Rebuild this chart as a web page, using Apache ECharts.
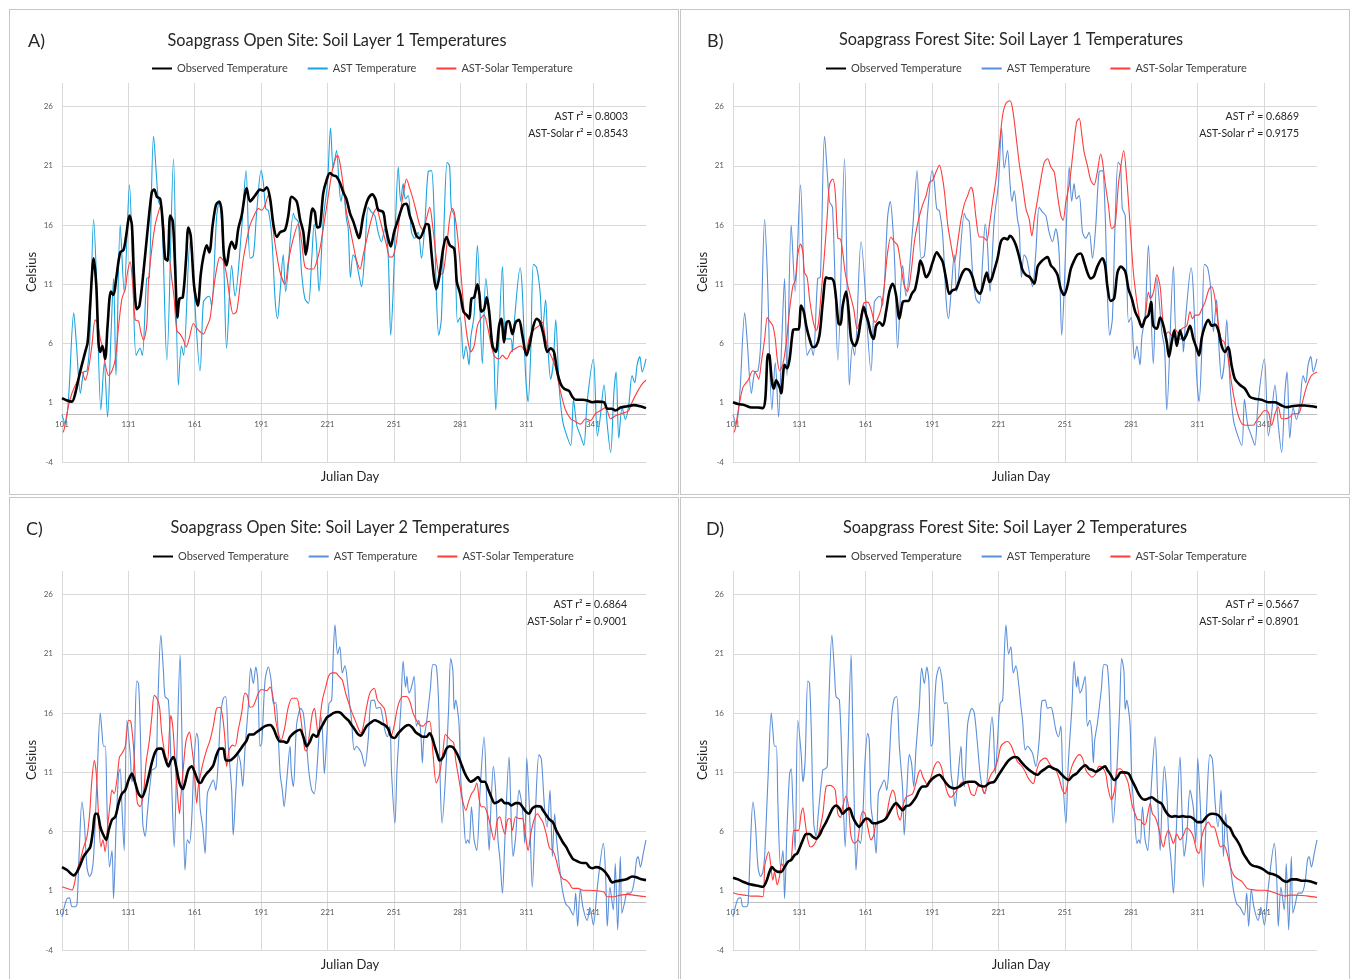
<!DOCTYPE html>
<html>
<head>
<meta charset="utf-8">
<script src="https://cdn.jsdelivr.net/npm/echarts@6/dist/echarts.min.js"></script>
<style>
  body { margin: 0; background: #fff; width: 1354px; height: 979px; overflow: hidden; position: relative; }
  .panel { position: absolute; width: 670px; height: 486px; box-sizing: border-box; border: 1px solid #c6c6c6; background: #fff; }
</style>
</head>
<body>
<div class="panel" id="pA" style="left:9px;top:9px"></div>
<div class="panel" id="pB" style="left:680px;top:9px"></div>
<div class="panel" id="pC" style="left:9px;top:497px"></div>
<div class="panel" id="pD" style="left:680px;top:497px"></div>
<script>
// Julian day / temperature (°C) pairs

// AST, layer 1 (panels A and B share it)
const astL1 = [[101,0],[102.5,-0.8],[104,1.5],[106.3,8.6],[107.5,6],[109.3,1.8],[110.8,3.6],[112.3,3.7],[113.5,6],[115.3,16.5],[116.5,12],[118.6,0.4],[120.1,4.4],[121.6,-0.2],[123,6],[124.3,11.5],[125.4,3.3],[127.3,16],[129.1,10.4],[131.5,19.4],[133,12],[134.5,5],[136.3,5.6],[137.3,5],[139.3,11.5],[140.5,11.6],[142.4,23.5],[144.6,18],[146,17.5],[148.4,4.6],[151.4,21.6],[153.6,2.5],[155,5.8],[156,5],[158.9,14.6],[163.4,3.7],[164.9,9.5],[166.4,9.9],[167.6,10],[168.6,9.2],[170.9,16.7],[172.1,18],[173.2,16],[174.2,12.3],[175.4,5.6],[177.7,12.6],[179.2,10],[182.2,15.7],[184.2,20.6],[186,13.2],[187.5,13.4],[189,17.1],[191,20.6],[192,19.6],[193.1,17.4],[194.3,17.2],[195.8,15.1],[197.3,9.8],[198.4,8.1],[199.6,10.4],[201,13.5],[202.1,10.4],[205.6,17],[206.3,16.6],[207.8,16.3],[209.3,12],[210.8,9.8],[212.4,9.4],[213.9,13.2],[215,16.1],[216,14.4],[217.2,10.4],[219.1,16.5],[221,19.5],[222.4,24.2],[223.6,20.8],[225.1,22.3],[226.2,19.6],[227.1,18],[228.1,18.9],[229.6,16.5],[230.4,15.7],[231.4,11.6],[232.6,13.5],[233.7,13.2],[234.9,12.1],[236.4,10.8],[237.9,13.7],[239.4,17.5],[240.9,17.1],[242.4,16.8],[243.9,15.4],[245.4,14.6],[246.9,15.7],[248.4,13.7],[249.6,6.7],[250.7,10.4],[251.8,16.5],[253,20.9],[254.1,18],[255.2,19.5],[256.2,18.2],[257.5,18.5],[259,15.4],[260.5,14.9],[262,15.4],[263.5,13.2],[265,16],[266.5,20.5],[268,20.6],[269.2,17.1],[270.2,10.4],[271.3,6.7],[272.5,8.1],[273.7,16],[275.1,21.3],[276.2,21],[277,17.4],[278.3,16.8],[279.8,7.8],[281,8.2],[282.5,4.7],[283.6,5.8],[285,4.2],[285.8,6.5],[287.3,8.4],[288.8,14.3],[291,4.3],[292.6,11.5],[294.9,6.9],[296.1,5.6],[297.1,0.4],[300.1,12.5],[301.6,6.4],[303.9,6.4],[304.6,5.3],[305.6,8.1],[308.1,12.4],[309.1,10.4],[310.6,3.3],[311.7,1.1],[312.9,5.3],[314.1,12.7],[315.6,12.4],[317.1,10.4],[318.2,7],[319.6,9.7],[320.7,5.6],[321.9,3],[323.1,4.4],[324.2,8],[325.7,2.5],[327.2,-0.4],[328.7,-1.5],[331,-2.6],[332.2,1.3],[333.7,-0.9],[335.4,-1.8],[336.9,-2.6],[338.4,1.1],[341.2,4.7],[343,-1.8],[344.2,-0.4],[346,2.5],[347.5,-0.9],[349,-3.2],[350.5,1.9],[351.5,3.6],[352.7,-2],[354.2,0.6],[355.7,-0.4],[357.2,0.8],[358.7,3.3],[359.9,2.7],[361,4.2],[362.2,4.9],[363.3,3.6],[365,4.7]];

// AST, layer 2 (panels C and D share it)
const astL2 = [[101,-1.2],[102,-0.4],[103.3,0.35],[104.4,0.4],[105.5,-0.35],[107,-0.35],[107.8,-0.1],[108.8,4.4],[110,8.5],[111.1,6.7],[112.3,3],[113.5,2.2],[114.5,2.6],[115.3,3.9],[116.8,10.35],[118.3,16],[119,14.6],[119.8,13.2],[120.6,13.2],[121.3,8.4],[122.5,3],[123.6,4.4],[124.3,0.35],[125.5,6.7],[126.6,10.9],[127.3,11.3],[128.1,8.1],[129.1,4.4],[130.3,15.4],[131.8,12.6],[132.6,10.2],[133.6,12],[134.8,18.7],[135.6,18.5],[136.3,15.1],[137.5,6.7],[138.6,5.6],[139.6,7.6],[141.6,11.2],[142.7,11.3],[143.6,11.5],[144.2,16],[145.7,22.6],[146.9,19.4],[147.6,17.4],[149.1,17.1],[150.6,9.8],[151.7,4.7],[152.9,12.3],[154.4,20.9],[155.1,15.1],[155.9,7.5],[156.6,2.75],[157.7,5.3],[158.6,5],[159.6,6.9],[160.7,12],[161.9,14.3],[162.6,13.7],[163.4,8.1],[164.6,6.4],[165.7,4.15],[166.7,9.2],[167.9,9.8],[169.4,10.35],[170.5,9.5],[171.5,11.5],[172.7,15.7],[173.9,17.25],[175,17.4],[176.2,13.2],[177.7,9.5],[178.4,5.7],[179.6,9.5],[180.7,12.5],[181.7,11.8],[182.7,9.8],[183.7,12.9],[185.2,16.5],[186.3,19.8],[187.5,18.5],[188.6,19.9],[189.5,18.8],[190.5,13.2],[191.3,13.5],[192.8,18.8],[194.3,19.9],[195.5,18.8],[196.6,16.8],[197.6,16.9],[198.5,15.1],[199.6,10.9],[200.6,9.5],[201.4,8.1],[202.6,10.35],[204.1,13.2],[204.6,11.2],[205.6,9.8],[207.1,15.1],[209,16.4],[210.1,16],[211.6,13.2],[212.7,10.9],[213.9,9.5],[215,9.2],[218.1,15.7],[218.7,14.6],[219.6,10.9],[220.6,13.7],[221.7,16.8],[222.9,17.1],[223.6,20.8],[224.4,23.45],[225.6,21],[226.6,21.6],[227.7,19.4],[228.9,20],[230.1,18.5],[231.2,16.5],[231.9,15.4],[233.1,12.9],[234.2,13.2],[235.2,13],[236.4,12.6],[237.9,11.5],[239.4,13.7],[240.6,17],[242.1,17.1],[243.2,16.4],[244.7,16.5],[245.7,15.9],[246.9,14.6],[248.1,14],[249.2,14.9],[250,10.9],[251.5,6.7],[252.5,11.5],[254.2,16.5],[255.2,20.4],[256.3,18.2],[256.9,19.1],[257.8,17.7],[258.7,18],[260.2,19.1],[261.2,14.9],[262.3,15.4],[263.2,14.3],[263.9,11.8],[264.5,13.7],[265.7,15.1],[267.5,18],[268.7,20.1],[270.2,20],[271.3,16.5],[272,10],[272.8,6.7],[274.3,10.4],[275.8,16.5],[276.7,20.6],[277.7,19.6],[278.3,16.3],[279,17.1],[279.8,16.3],[280.5,15],[281.3,10.35],[282.5,7.5],[283.6,5],[284.4,5.3],[285.1,5],[286.1,8.1],[287.3,5.3],[288.5,4.4],[290,9.5],[291.8,14],[293,8.7],[294.1,4.4],[294.9,8.1],[296,11.5],[297,9.5],[298.1,5.3],[299,3.6],[300.1,0.8],[301.2,5.3],[303.1,12.3],[303.9,8.1],[304.9,3.9],[306.1,5.6],[307.6,9.5],[309.1,8],[310.2,5],[311.1,12.2],[312.3,8],[313.6,1.3],[315.1,8],[316.6,12.5],[317.7,12.1],[319.1,8.1],[320.3,6.4],[321.6,9.5],[322.7,3.9],[323.7,7.5],[324.6,5.3],[325.7,3.3],[327.2,1.1],[328.7,-0.1],[330.2,-0.4],[332.1,-1.05],[333.2,0.8],[334.1,-2],[335.3,1.1],[336.5,-0.4],[338.4,-1.5],[339.6,-0.4],[341.2,-1.9],[343,1.3],[345.7,5],[346.8,2],[347.5,-2],[348.7,1.3],[350.2,-0.6],[351.1,3.3],[352.2,-2.3],[353.4,3.9],[354.1,-0.9],[355.2,-0.1],[356.5,0.8],[358,0.8],[359.5,1.6],[360.7,3.6],[361.4,3.9],[362.5,3],[363.7,4.1],[365,5.3]];

// Panel A: open site, layer 1
const obsA = [[101,1.4],[103.3,1.2],[105.5,1.1],[107,1.8],[109.3,3.7],[111.5,5.3],[112.6,6.1],[113.8,9.5],[115.3,13.2],[116.5,10.9],[117.5,6.1],[118.3,5.3],[119.3,5.8],[120.5,4.7],[121.6,7.5],[123.1,10.4],[124.3,10.1],[125.5,11.5],[127.3,13.7],[128.8,13.9],[130,15.1],[131.5,16.8],[132.6,16],[133.6,11.5],[134.8,8.9],[136,9.2],[137.8,12],[139.6,15.4],[141.6,18.8],[142.7,19],[143.9,18.4],[145.4,18.2],[146.6,16],[147.6,13.2],[148.7,13],[149.9,16.8],[151.1,16.3],[152.1,12.6],[153.2,8.2],[154.1,9.8],[155.6,9.9],[157.1,13.2],[158.1,15.8],[159.2,15.1],[160.7,10.9],[162.4,9.2],[163.7,11.8],[164.9,13.3],[166.4,14.3],[167.6,13.7],[169.1,16],[170.6,17.7],[172.1,18],[173.2,17.1],[174.2,13.5],[175.4,12.6],[176.6,14],[177.7,14.6],[179.2,14],[180.7,15.7],[182.2,16.8],[184.5,19.1],[186,18],[188.3,18.5],[190.5,19],[192,18.9],[193.6,19.2],[195.1,18.2],[196.6,16],[198.1,15],[199.6,15.4],[201.8,15.6],[203.3,16.8],[204.8,18.4],[207.1,18],[208.6,16.5],[210.1,15.4],[211.2,13.5],[212.7,15.4],[214.3,17.4],[215.3,17.1],[216.4,15.8],[217.6,15.9],[219.1,18.7],[220.6,19.8],[222.1,20.4],[223.6,20.2],[225.1,20.1],[226.6,19.6],[228.1,18.8],[229.6,18.2],[231.2,17],[232.7,16.3],[234.2,15.4],[235.2,14.9],[237.2,16.8],[239.1,18.1],[241.2,18.6],[242.7,18.2],[243.9,17.3],[246.2,17.1],[247.2,16],[248.4,14.9],[249.6,14.2],[251.1,15.4],[253,16.5],[255.2,17.7],[256.7,17.8],[258.2,16.8],[259.7,16],[261.2,15.1],[262.7,14.9],[264.2,15.4],[265.7,16.1],[266.8,16],[268,13.7],[269.2,11.5],[270.2,10.6],[271.7,11.8],[273.3,14],[274.8,15],[276.3,14.3],[278.3,14],[279.5,11.2],[281,10.2],[282.5,8.7],[284,8.4],[285.1,8.1],[286.1,9.8],[287.3,9.9],[288.8,11],[289.6,10.3],[290.6,8.7],[291.8,8.9],[293,9.9],[294.1,8.7],[295.6,5.8],[297.1,5.3],[298.6,7.5],[299.6,8.1],[300.8,6.1],[302,7.8],[303,7.9],[304.6,6.8],[306.1,7.8],[307.6,8],[309.1,6.7],[311,5],[312.6,6.1],[314.1,7.5],[315.6,8.1],[317.1,7.8],[318.6,6.8],[320.4,5.3],[321.9,5.6],[323.4,5.3],[324.9,3.6],[326.4,2.6],[327.9,2.2],[330.2,2],[331.7,1.5],[333.2,1.25],[336.2,1.25],[338.4,1.2],[340.7,1.05],[343,1.1],[346,1.05],[347.5,0.5],[349.5,0.5],[351.2,0.35],[353.5,0.6],[356.5,0.7],[359.5,0.8],[362.5,0.7],[365,0.55]];
const solA = [[101.5,-1.5],[102,-1.2],[104,0.8],[105.5,1.8],[107.8,2.8],[110,3.6],[111.5,2.9],[113,3.9],[114.5,5.8],[116,8],[117.1,7.7],[118.3,6.4],[119.5,5.6],[120.5,4.3],[122.1,3.3],[123.6,3.7],[125.1,4.7],[126.6,7.5],[128.1,9.8],[129.6,10.6],[130.6,12],[131.8,12.9],[133,10.9],[134.1,8],[135.6,7.9],[136.6,7],[137.8,6.3],[139.3,7.5],[140.1,11.2],[141.6,14],[143.1,16],[144.6,17.1],[145.7,17.7],[146.9,16],[148.1,13],[149.3,13.2],[150.6,11.5],[151.7,9.8],[152.9,7.1],[154.4,6.8],[155.9,6.3],[157.1,5.7],[158.6,6.5],[160.4,7.7],[161.9,7.3],[163.4,7],[164.9,6.8],[166.4,7.4],[167.9,8.1],[169.4,10.4],[170.9,12.3],[172.4,13.3],[173.9,13],[175.4,11.8],[176.9,9.8],[178.4,8.5],[179.9,8.7],[181.5,10.9],[183,13.2],[185.2,15.4],[186,16],[187.8,16.8],[189.8,17.4],[191.3,17.25],[192.8,17.7],[194.3,18.5],[195.5,17.9],[196.6,15.4],[198.1,13.5],[199.6,12],[201.8,11],[203.3,12.9],[205.6,14.9],[207.8,16.1],[209.3,14.6],[210.8,12.5],[212.4,12.3],[214.6,12.3],[216.1,12.9],[217.6,14],[219.1,15.7],[221.4,18.5],[223.6,21],[225.6,21.9],[226.6,21.3],[228.1,19.4],[229.6,17.1],[231.2,15.7],[232.7,14.3],[234.2,13],[235.7,12.3],[237.2,13.5],[239.1,15.1],[241.2,16.7],[243.2,17.4],[244.7,16.5],[246.2,15.4],[247.7,14.3],[249.2,13.3],[250.7,13.4],[252.2,14.6],[253.7,16.8],[255.7,19.1],[256.7,19.9],[258.2,19.1],[259.7,18.2],[261.2,17.1],[262.7,16],[264.2,15.6],[265.7,16.5],[267.2,17.5],[268.7,15.7],[270.2,13.2],[271.7,11.8],[273.3,12],[274.8,14],[276.3,16.6],[277.5,17.4],[278.3,17.1],[279.8,15.1],[281.3,12],[282.8,8.7],[284.3,6.4],[285.8,5.3],[287.3,5.8],[288.8,7.5],[290.3,8.1],[291.8,8.4],[293.3,7.5],[295.1,5.8],[296.6,4.9],[298.6,4.7],[300.1,5],[302,4.7],[303.9,5.3],[306.1,5.6],[308.4,5.8],[310.6,5.3],[312.1,6.4],[313.6,7],[315.1,7.3],[316.6,7.5],[318.1,7.8],[319.6,6.4],[321.2,5.3],[322.7,4.7],[324.2,3.9],[325.7,2.5],[327.2,1.3],[328.7,0.35],[331,-0.35],[333.2,-0.6],[335.4,-0.8],[337.7,-0.35],[339.9,-0.5],[342.2,0.1],[344.5,0.35],[346.7,0.6],[349,-0.35],[351.2,-0.1],[353.5,0.05],[355.7,0.2],[357.2,0.35],[358.7,1.05],[361,1.9],[363.3,2.6],[365,2.9]];

// Panel B: forest site, layer 1
const obsB = [[101,1.05],[103.3,0.9],[106.3,0.8],[109.3,0.6],[112.3,0.6],[114.5,0.55],[115.6,1.3],[116.8,5.1],[117.5,5],[118.6,2.75],[119.5,2.2],[120.5,2.9],[122.1,2.3],[122.8,1.8],[124.3,4.2],[125.5,3.9],[126.6,4.7],[128.1,7.1],[129.1,7.2],[130.6,7.2],[131.8,9.2],[133,8.7],[134.1,7.5],[135.6,6.4],[137.1,5.7],[138.6,5.8],[140.1,6.7],[141.6,9.5],[143.1,11.6],[144.2,11.5],[145.4,11.5],[146.6,11.2],[147.6,9.8],[148.7,7.7],[149.6,7.6],[150.6,9.2],[152.1,10.4],[153.3,8.7],[154.4,6.4],[155.9,5.8],[157.4,6.4],[158.9,8.1],[160.1,9.1],[161.2,8.4],[162.2,7.8],[163.4,6.8],[164.6,6.4],[165.7,7.5],[167.2,7.8],[168.7,7.5],[170.2,8.7],[171.7,10.4],[173.2,11.05],[174.7,10.1],[176.2,8.1],[177.7,9.5],[178.8,9.6],[180.3,9.6],[181.8,10.2],[183.3,10.6],[184.8,12],[185.7,13],[186.7,12.6],[188.3,11.6],[189.8,12],[191.3,12.9],[193.1,13.7],[194.3,13.4],[195.8,12.9],[197.3,11.5],[198.8,10.2],[200.3,10.5],[201.8,10.6],[203.3,11.3],[204.8,12],[206.3,12.3],[207.8,12.2],[209.3,11.6],[210.8,10.6],[212.7,10.2],[214.2,11.05],[215.7,12],[216.9,11.2],[218,11.5],[219.1,12.2],[220.6,13.2],[222.1,14.6],[223.6,14.9],[225.1,14.8],[226.2,15.1],[227.4,14.9],[228.9,14.3],[230.4,13.3],[231.9,12.2],[233.4,11.8],[235.2,11.6],[237.2,11.05],[238.7,12.5],[240.2,12.9],[242.1,13.2],[243.2,13.3],[244.7,12.6],[246.2,12.3],[247.7,11.8],[249.2,10.6],[250.7,10.1],[252.2,10.9],[253.7,12.3],[255.2,13],[256.7,13.5],[258.2,13.6],[259.7,12.9],[261.2,12],[262.7,11.5],[264.2,11.7],[265.7,12.5],[268,13.2],[269.2,12.6],[270.2,10.9],[271.7,9.6],[273.3,9.8],[274.8,12],[276.3,12.5],[278.3,12.1],[279.8,10.6],[281.3,9.8],[282.8,8.7],[284.3,8.1],[285.8,7.4],[287.3,8.1],[288.8,8.4],[290,9.5],[291,7.5],[292.6,7.25],[294.1,8.2],[295.6,7.5],[297.1,6.1],[298.1,4.9],[299.3,6.1],[300.5,7.1],[301.6,5.8],[303.1,7.1],[304.6,6.3],[306.1,6.8],[307.6,7.5],[309.1,6.4],[310.6,5.6],[311.7,5],[312.9,6.5],[314.4,7.5],[315.9,8],[317.4,7.5],[318.9,7.6],[320.4,7.1],[321.9,5.8],[323.4,5.3],[324.9,5.7],[326.4,4.15],[327.9,3],[330.2,2.5],[332.4,2.2],[334.7,1.5],[336.9,1.34],[339.9,1.25],[343,1.05],[346,1.05],[349,0.77],[351.2,0.63],[353.5,0.7],[356.5,0.77],[359.5,0.77],[362.5,0.7],[365,0.63]];
const solB = [[101.5,-1.5],[102,-1.2],[103.6,0.6],[105.5,2.3],[107.8,2.9],[110,3.7],[111.5,3.45],[112.6,3],[113.8,4.4],[115.3,6.4],[116.5,8.2],[117.5,7.9],[119,7.5],[120.1,6.4],[121,4.7],[122.1,3.7],[123.6,4.3],[125.1,6.1],[126.6,8.9],[128.1,10.9],[129.1,11.3],[130.3,13.5],[131.5,14.4],[132.6,13.7],[133.3,12],[134.5,11.6],[135.6,9.8],[137.1,8],[138.6,7.1],[139.6,7.7],[140.8,10.1],[142.4,13.7],[143.6,16.8],[144.6,19.4],[146.1,19.9],[147.2,18.8],[148.4,14.9],[149.6,14.8],[150.6,13.7],[151.7,12],[152.9,10.9],[154.4,9.8],[155.6,8.9],[157.1,7.25],[158.6,8.1],[160.1,9.4],[161.9,9.5],[163.4,8.9],[165.2,7.8],[166.4,8.1],[167.9,8.9],[169.4,10.9],[170.9,13.7],[172.4,15],[173.9,14.6],[175.4,14.3],[176.9,12.6],[178.4,10.9],[179.9,10.4],[181.5,12],[183,14.6],[184.8,16.4],[186.7,17.7],[188.3,18.5],[189.8,19.6],[191.3,19.8],[192.8,20.5],[194.3,21.05],[195.5,20.2],[196.6,18.8],[198.1,16],[199.6,14.3],[201.1,12.9],[202.6,14.6],[204.1,16.5],[205.6,17.8],[207.1,18.5],[208.6,19.2],[209.6,18.7],[210.8,16.7],[212.4,15],[213.9,15],[215.7,14.7],[216.9,16],[218.4,18],[219.9,19.9],[221.4,22.7],[222.9,25.3],[224.4,26.3],[226.2,26.5],[227.4,25.8],[228.9,23.6],[230.4,21.2],[231.9,19.4],[233.4,17.4],[234.9,16.5],[236.1,15.1],[237.2,16.5],[238.7,18.2],[240.2,19.9],[241.7,21.3],[243.2,21.6],[244.7,20.9],[246.2,20.5],[247.7,18.5],[249.2,16.8],[250.2,16.4],[251.5,18],[253,19.4],[254.5,21.8],[256.3,24.7],[257.5,25],[258.7,23.6],[259.7,22.2],[261.2,21.05],[262.7,19.8],[264.2,19.4],[265.7,20.5],[267.2,22],[268,21.4],[269.2,19.6],[270.7,17.7],[272.2,15.7],[273.7,16],[275.2,19.4],[276.2,20.8],[277.6,22.3],[279,19.9],[280.5,16],[282,12],[283.6,9.5],[285.1,7.8],[286.1,7.4],[287.3,8.1],[288.8,10.35],[289.6,9.8],[291.1,10.35],[292.6,11.8],[294.1,10.8],[295.1,8.4],[296.3,6.7],[297.8,7],[299.3,6.7],[300.8,7.25],[302.4,6.8],[303.9,7.25],[306.1,7.5],[307.6,8.7],[308.7,8.1],[309.9,8.4],[311.4,8.4],[312.9,8.9],[314.4,9.5],[316.2,10.6],[317.4,10.8],[318.6,10.1],[320.1,8.1],[321.6,6.4],[323.1,6.1],[324.6,5],[326.1,3],[327.6,1.34],[329.4,-0.07],[331.2,-0.8],[333.9,-0.9],[336.2,-0.9],[337.7,-0.5],[339.9,0.07],[341.2,0.35],[343,0.2],[344.5,-0.9],[346,0.07],[347.5,0.63],[349,-0.35],[350.5,-0.35],[352.7,-0.2],[354.2,0.07],[356.5,0.07],[358,0.77],[360.2,2.3],[362.5,3.3],[365,3.6]];

// Panel C: open site, layer 2
const obsC = [[101,3],[103.3,2.75],[106.3,2.3],[107.8,2.6],[109.3,3.2],[110.8,3.9],[112.3,4.3],[113.8,4.7],[115,6.1],[116,7.5],[117,7.5],[118.3,6.4],[119.5,5.8],[121,5.3],[122.1,6.1],[123.6,7],[125.1,7.25],[126.6,8.4],[128.1,9.2],[129.6,9.5],[131.1,10.35],[132.6,10.9],[134.1,10.1],[135.6,9.2],[137.1,8.9],[138.6,9.5],[140.1,10.6],[141.6,11.8],[143.1,12.7],[144.6,13],[146.1,13],[147.6,12.2],[149.1,11.5],[150.2,12],[151.4,12.3],[152.6,11.5],[154.1,10.1],[155.6,9.6],[156.6,10.1],[158.1,11.2],[159.6,11.5],[161.2,10.9],[162.7,10.2],[163.7,10.1],[164.9,10.5],[166.4,10.9],[167.9,11.2],[169.4,11.6],[170.9,12.5],[172.4,13],[173.9,13],[175.1,12],[176.9,12],[178.4,12.2],[179.9,12.5],[181.5,12.9],[183,13.3],[184.5,13.7],[185.7,14.2],[187.5,14.2],[188.3,14.3],[190.5,14.6],[192.8,14.9],[195.1,15],[196.6,14.7],[198.1,14],[199.6,13.6],[201.1,13.6],[202.6,13.5],[204.1,14],[206.3,14.4],[208.6,14.6],[210.1,14],[211.6,13.2],[213.1,13.6],[214.6,14.2],[216.1,14],[217.6,14.6],[219.1,15.1],[220.6,15.6],[222.1,15.8],[223.6,16],[225.6,16.1],[227.1,16],[228.6,15.7],[230.4,15.4],[231.9,15],[233.4,14.6],[234.9,14.2],[236.1,14.1],[237.2,14.4],[238.7,14.9],[240.6,15.2],[242.4,15.4],[243.9,15.3],[245.7,15.1],[246.9,15],[248.4,14.7],[249.9,14],[251.4,13.9],[253,14.3],[254.5,14.6],[256.3,14.9],[257.8,15],[259.3,14.8],[260.8,14.4],[262.3,14.2],[264.2,14],[265.7,14],[267.2,14.3],[268.2,14],[269.5,13.2],[270.7,12.5],[271.7,12],[273.3,12.3],[274.8,13],[276.3,13.2],[277.8,13.1],[279.8,12.5],[281.3,11.8],[282.8,11.05],[284.3,10.5],[285.8,10.2],[287.3,10.35],[289.1,10.6],[290.6,10.2],[292.1,10.2],[293.6,9.6],[295.1,8.9],[296.6,8.4],[298.1,8.5],[299.6,8.7],[301.1,8.4],[302.7,8.4],[304.2,8.2],[306.1,8.4],[307.6,8.4],[309.1,8.1],[310.6,7.7],[312.1,7.5],[313.6,7.96],[315.6,8.15],[317.4,8.1],[318.4,7.8],[319.9,7.4],[321.4,7],[322.9,6.8],[324.4,6.1],[325.9,5.6],[327.4,5.1],[328.9,4.7],[330.4,4.15],[331.9,3.7],[333.4,3.55],[335,3.4],[336.4,3.35],[337.9,3.35],[339.4,3],[340.9,2.9],[342.4,3],[344.5,2.9],[346.5,2.6],[348,2.2],[349.8,1.7],[351.3,1.8],[354.2,1.9],[356.5,2],[358.7,2.2],[360.6,2.15],[362.5,2],[365,1.9]];
const solC = [[101,1.34],[103.3,1.2],[105.5,1.06],[106.6,1.6],[107.8,2.75],[109.3,3.6],[110.8,4.7],[112.3,5.56],[113.5,7.5],[114.5,10.35],[115.6,12],[116.5,10.9],[117.5,7.5],[118.6,4.7],[119.5,5.3],[120.5,4.3],[121.6,6.4],[122.8,8.4],[123.6,9.5],[124.6,9.2],[125.8,10.35],[127,12.3],[128.1,12.6],[129.6,13.2],[131.1,15.4],[132.1,15.3],[133.3,13.2],[134.1,10.6],[135.1,8.4],[136.3,8.1],[137.8,9.2],[139,11.8],[140.5,13.7],[141.6,15.7],[142.7,17.5],[143.9,17.25],[145.1,16.5],[146.1,14.3],[147.6,12.5],[148.7,12],[149.6,14.6],[150.2,15.8],[151.1,14.8],[152.1,12],[153.2,9.2],[154.1,7.5],[154.7,8.9],[155.9,11.5],[157.1,13.7],[158.6,14.4],[159.6,13.2],[160.7,11.5],[161.9,8.4],[162.6,9.8],[163.7,10.9],[164.9,11.9],[166.4,12.9],[167.9,13.7],[169.4,14.9],[170.9,16.4],[172.4,16.5],[173.6,15.7],[174.7,13.7],[175.4,11.5],[176.6,12.9],[178.1,13.3],[179.2,13.2],[180.7,14.6],[182.2,16],[183.7,17.7],[184.8,17.5],[186,16.5],[187.5,16.6],[189.8,17.7],[191.3,18],[193.6,17.9],[195.1,18.2],[196.6,17.1],[197.6,15.4],[198.8,14.3],[200,13.7],[201.5,14.6],[203.3,16.5],[205.1,17.25],[207.1,17.25],[208.6,16],[209.6,14.6],[210.8,12.9],[211.6,12.8],[212.7,14],[214.2,16],[215.1,16.4],[216.1,15.1],[216.9,14],[217.6,15.4],[218.7,17.1],[220.2,18.2],[221.7,19.2],[223.2,19.4],[224.7,19.4],[226.2,19.1],[227.7,18.8],[229.2,17.7],[230.7,16.8],[232.2,16],[233.7,15.3],[235.2,14.6],[236.1,14.3],[237.2,14.9],[238.7,16.5],[240.2,17.7],[242.1,18.1],[243.6,17.1],[245.4,16.7],[246.9,16.3],[248.4,14.6],[249.6,14],[251.1,14.9],[253,16.7],[255.2,17.4],[256.7,17.4],[258.2,17],[259.7,16],[261.2,15.4],[262.7,15],[264.2,14.9],[265.7,15.2],[267.2,15.3],[268.7,12.6],[270.2,10.1],[271.7,10.9],[273.3,12.9],[274.3,14.2],[275.8,13.9],[276.8,13.7],[278,13.5],[279,12],[280.5,10.35],[282,8.7],[283.6,7.8],[284.6,8.4],[286.1,9.2],[287.3,9.5],[288.5,10.1],[289.6,8.7],[290.6,8.1],[291.8,8.1],[293.3,7.5],[294.8,6.4],[296.3,5.3],[297.8,7],[298.9,7.25],[300.1,6.4],[301.2,5.8],[302.4,7],[303.5,7.1],[304.6,6.1],[306.1,7.25],[307.6,7.1],[309.1,7.1],[310.6,5.56],[311.7,4.4],[312.9,5.8],[314.4,7],[315.9,7.5],[317.4,7.1],[318.4,6.8],[319.9,5.8],[321.4,4.6],[322.9,4.4],[324.4,3.6],[325.9,2.5],[327.4,2],[328.9,1.9],[330.4,1.6],[331.9,1.2],[334.2,1.2],[336.4,1.05],[339.4,1.05],[343,1],[346,0.9],[347.5,0.5],[350.5,0.5],[353.5,0.63],[356.5,0.7],[359.5,0.63],[362.5,0.55],[365,0.5]];

// Panel D: forest site, layer 2
const obsD = [[101,2.1],[103.3,1.96],[105.5,1.76],[107.8,1.6],[110,1.5],[112.3,1.42],[114.5,1.34],[116,1.76],[117.5,2.6],[118.6,3],[119.8,2.75],[121.3,2.6],[122.8,2.6],[124.3,3],[125.8,3.45],[127.3,3.6],[128.8,4],[130,4.15],[131.1,4.6],[132.6,5.3],[134.1,5.8],[135.6,5.8],[137.1,5.56],[138.6,5.4],[140.1,5.7],[141.6,6.3],[143.1,6.8],[144.6,7.4],[146.1,7.96],[147.6,8.2],[149.1,7.96],[150.6,7.5],[152.1,7.8],[153.6,7.96],[155.1,7.25],[156.6,6.7],[158.1,6.4],[159.6,6.8],[161.2,7.1],[162.7,7],[164.2,6.7],[165.7,6.7],[167.2,6.8],[168.7,6.9],[170.2,7.1],[171.7,7.6],[173.2,8.1],[174.7,8.4],[176.2,8.1],[177.7,7.8],[179.2,8.15],[180.7,8.2],[182.2,8.5],[183.7,8.9],[185.2,9.5],[186.7,9.8],[188.3,9.8],[189.8,10.2],[192,10.6],[194.3,10.8],[195.8,10.5],[197.3,10.1],[198.8,9.8],[201.1,9.65],[203.3,9.8],[205.6,10.1],[207.8,10.2],[210.1,10.2],[212.4,9.9],[214.6,9.8],[216.9,10.1],[219.1,10.2],[221.1,10.8],[222.9,11.3],[224.7,11.8],[226.2,12.1],[228.1,12.3],[229.6,12.25],[231.2,11.9],[233.1,11.5],[234.9,11.2],[237.2,10.9],[238.7,10.8],[240.2,11.05],[242.1,11.3],[243.9,11.5],[246.2,11.3],[247.7,11.2],[249.2,10.9],[250.7,10.6],[252.7,10.35],[254.5,10.7],[256.3,10.9],[258.2,11.3],[260.2,11.6],[262,11.3],[263.5,11.2],[265,11.05],[267.2,11.3],[269.2,11.5],[270.2,11.2],[271.7,10.8],[273.3,10.35],[274.8,10.6],[276.3,11],[277.8,11],[279.8,10.9],[281.3,10.35],[282.8,9.8],[284.3,9.2],[285.8,8.8],[287.3,8.7],[288.8,8.8],[290.3,8.9],[291.8,8.7],[293.3,8.5],[294.8,8.35],[296.3,7.8],[297.8,7.4],[299.3,7.25],[300.8,7.3],[302.6,7.25],[304.2,7.3],[306.1,7.25],[307.6,7.25],[309.1,7.1],[311,6.8],[312.9,6.8],[314.4,7.1],[315.9,7.4],[317.7,7.5],[319.6,7.45],[321.1,7.25],[322.7,6.8],[324.2,6.5],[325.7,6.3],[327.2,5.7],[328.7,5.3],[330.2,4.8],[331.7,4.15],[333.2,3.7],[334.7,3.3],[336.2,3.1],[338.4,3],[340.7,2.8],[343,2.5],[345.2,2.4],[347.5,2.2],[349.8,1.85],[351.3,1.76],[353.5,1.96],[355.7,1.96],[358,1.85],[360.2,1.85],[362.5,1.76],[365,1.6]];
const solD = [[101,0.83],[103.3,0.7],[106.3,0.63],[109.3,0.55],[112.3,0.55],[114.5,0.5],[115.3,3],[116,3.7],[117.1,4.3],[118,3.3],[119,1.9],[119.8,2.6],[121,1.5],[122.1,2.3],[123,3.3],[124,3],[125.8,3.45],[127.3,3.7],[128.5,6.1],[129.6,6.1],[130.6,6.1],[131.8,7.5],[132.6,8],[133.6,6.8],[134.8,5.3],[136,4.7],[137.5,4.85],[139,5.4],[140.1,6.1],[141.6,7.5],[143.1,9.8],[144.6,9.9],[146.1,9.8],[147.2,9.5],[148.4,7.5],[149.6,7.2],[150.6,8.1],[152.1,9],[153.2,8.1],[154.4,5.56],[155.9,5],[157.4,5.3],[158.6,7],[159.6,7.7],[160.7,7.5],[161.9,6.4],[163.4,5.3],[164.6,5.7],[165.7,6.7],[167.2,6.8],[168.7,6.95],[170.2,7.25],[171.7,8.7],[173.2,9.5],[174.2,9.1],[175.4,7.5],[176.6,6.95],[177.7,8.1],[179.2,8.9],[180.7,9.05],[182.2,9.2],[183.7,10.1],[184.8,10.9],[185.7,11.2],[186.8,10.6],[188,10.2],[189,9.8],[190.5,10.6],[192,11.5],[193.6,11.9],[195.1,11.5],[196.6,10.2],[198.1,9.2],[199.6,8.9],[201.1,9.2],[202.6,9.65],[204.1,10.1],[205.6,10.2],[207.1,10.1],[208.6,9.2],[210.1,9.05],[211.6,9.8],[213.1,9.9],[214.6,9.2],[216.1,10.1],[217.6,10.8],[219.1,11.2],[220.6,12],[222.1,13.2],[223.6,13.5],[225.1,13.6],[226.6,13.3],[228.1,12.6],[229.6,11.9],[231.2,11.6],[232.7,11.2],[234.2,10.6],[235.7,10.2],[236.8,10.05],[237.9,10.9],[239.4,11.8],[240.9,12.1],[242.4,12.2],[243.9,11.8],[245.7,11.3],[246.9,11.2],[248.4,10.5],[249.9,9.5],[251.1,9.2],[252.6,10.35],[254.2,11.5],[256,12.2],[257.5,12.5],[259,12.2],[260.5,11.2],[262,10.8],[263.5,10.6],[265,10.9],[266.5,11.5],[268,11.4],[269.5,10.9],[270.4,9.8],[272,8.7],[273.5,9.5],[274.5,11.2],[276,11.3],[277.5,11],[279.5,10.2],[280.5,9.2],[281.6,8.1],[282.8,7.5],[284,7],[285.1,7],[286.1,6.7],[287.3,6.6],[288.5,7.5],[289.6,8.4],[290.6,7.5],[291.8,7.25],[293.3,6.4],[294.5,5.3],[295.6,4.7],[296.6,5.56],[297.8,6.1],[299,5.56],[300.1,5],[301.6,5.8],[303.1,5.3],[304.6,5.7],[306.1,6.3],[307.6,6.1],[309.1,5.56],[310.6,4.4],[311.7,4.15],[312.9,5.56],[314.4,6.4],[315.9,6.8],[317.4,6.4],[318.4,6.4],[319.9,5.56],[321.4,4.7],[322.9,4.85],[324.4,4.15],[325.9,3],[327.4,2.3],[329.2,2],[331.2,1.76],[333.4,1.2],[335.7,1.1],[338.4,1.05],[341.4,1.05],[344.5,0.92],[346.7,0.77],[348.7,0.63],[350.5,0.55],[352.7,0.63],[355,0.63],[358,0.6],[361,0.55],[365,0.44]];

const seriesNames = ['Observed Temperature', 'AST Temperature', 'AST-Solar Temperature'];
const dayMin = 101, dayMax = 365, dayStep = 30;
const tempMin = -4, tempMax = 28, tempStep = 5;

const panels = [
  { id: 'pA', letter: 'A)', letterX: 18, title: 'Soapgrass Open Site: Soil Layer 1 Temperatures', titleX: 327, titleY: 31,
    obs: obsA, ast: astL1, solar: solA, astColor: '#1aa3e0', r2: ['0.8003', '0.8543'], annX: 618, legendX: 136 },
  { id: 'pB', letter: 'B)', letterX: 26, title: 'Soapgrass Forest Site: Soil Layer 1 Temperatures', titleX: 330, titleY: 30,
    obs: obsB, ast: astL1, solar: solB, astColor: '#5b8fd9', r2: ['0.6869', '0.9175'], annX: 618, legendX: 139 },
  { id: 'pC', letter: 'C)', letterX: 16, title: 'Soapgrass Open Site: Soil Layer 2 Temperatures', titleX: 330, titleY: 30,
    obs: obsC, ast: astL2, solar: solC, astColor: '#5b8fd9', r2: ['0.6864', '0.9001'], annX: 617, legendX: 137 },
  { id: 'pD', letter: 'D)', letterX: 25, title: 'Soapgrass Forest Site: Soil Layer 2 Temperatures', titleX: 334, titleY: 30,
    obs: obsD, ast: astL2, solar: solD, astColor: '#5b8fd9', r2: ['0.5667', '0.8901'], annX: 618, legendX: 139 }
];

const FONT = 'Lato, "Open Sans", sans-serif';
const txt = (text, x, y, size, opts) => Object.assign({
  type: 'text', silent: true,
  style: Object.assign({ text, x, y, fill: '#333', font: size + 'px ' + FONT,
    textAlign: 'center', align: 'center', textVerticalAlign: 'middle', verticalAlign: 'middle' }, opts && opts.style)
}, opts && opts.el);

// plot area: 73px from top, 32px from bottom of the panel; the day axis sits on 0 °C
const gridTop = 73, gridBottom = 32, panelInnerH = 484;
const plotH = panelInnerH - gridTop - gridBottom;
const zeroOffset = -plotH * (0 - tempMin) / (tempMax - tempMin);

panels.forEach(p => {
  const chart = echarts.init(document.getElementById(p.id), null, { renderer: 'canvas' });
  const line = (name, data, color, width) => ({
    name, type: 'line', data, symbol: 'none', showSymbol: false, smooth: 0.3,
    lineStyle: { color, width }, itemStyle: { color }, emphasis: { disabled: true }, z: 2
  });
  chart.setOption({
    animation: false,
    grid: { left: 52, right: 32, top: gridTop, bottom: gridBottom, containLabel: false },
    legend: {
      data: seriesNames, left: p.legendX, top: 48, itemWidth: 20, itemHeight: 9, itemGap: 19,
      itemStyle: { opacity: 0 },
      textStyle: { fontFamily: FONT, fontSize: 11, color: '#404040' },
      selectedMode: false
    },
    xAxis: {
      type: 'value', min: dayMin, max: dayMax, interval: dayStep, position: 'bottom', offset: zeroOffset,
      axisLine: { onZero: false, lineStyle: { color: '#bfbfbf', width: 1 } },
      axisTick: { show: false },
      axisLabel: { fontFamily: FONT, fontSize: 8, color: '#595959', margin: 6,
        formatter: v => (v === dayMax ? '' : String(v)) },
      splitLine: { show: true, showMaxLine: false, lineStyle: { color: '#d9d9d9', width: 1 } }
    },
    yAxis: {
      type: 'value', min: tempMin, max: tempMax, interval: tempStep,
      axisLine: { show: false }, axisTick: { show: false },
      axisLabel: { fontFamily: FONT, fontSize: 8, color: '#595959', margin: 9,
        formatter: v => (v === tempMax ? '' : String(v)) },
      splitLine: { show: true, showMaxLine: false, lineStyle: { color: '#d9d9d9', width: 1 } }
    },
    graphic: [
      txt(p.letter, p.letterX, 31, 18, { style: { textAlign: 'left', align: 'left', fill: '#262626' } }),
      txt(p.title, p.titleX, p.titleY, 16.3, { style: { fill: '#262626' } }),
      txt('AST r² = ' + p.r2[0], p.annX, 107, 10.5, { style: { textAlign: 'right', align: 'right', fill: '#262626' } }),
      txt('AST-Solar r² = ' + p.r2[1], p.annX, 124, 10.5, { style: { textAlign: 'right', align: 'right', fill: '#262626' } }),
      txt('Celsius', 0, 0, 13, { style: { fill: '#262626' }, el: { rotation: Math.PI / 2, x: 22, y: 262 } }),
      txt('Julian Day', 340, 467, 13, { style: { fill: '#262626' } })
    ],
    series: [
      line(seriesNames[1], p.ast, p.astColor, 1.1),
      line(seriesNames[2], p.solar, '#ff3b3b', 1.1),
      line(seriesNames[0], p.obs, '#000000', 2.6)
    ]
  });
});
</script>
</body>
</html>
